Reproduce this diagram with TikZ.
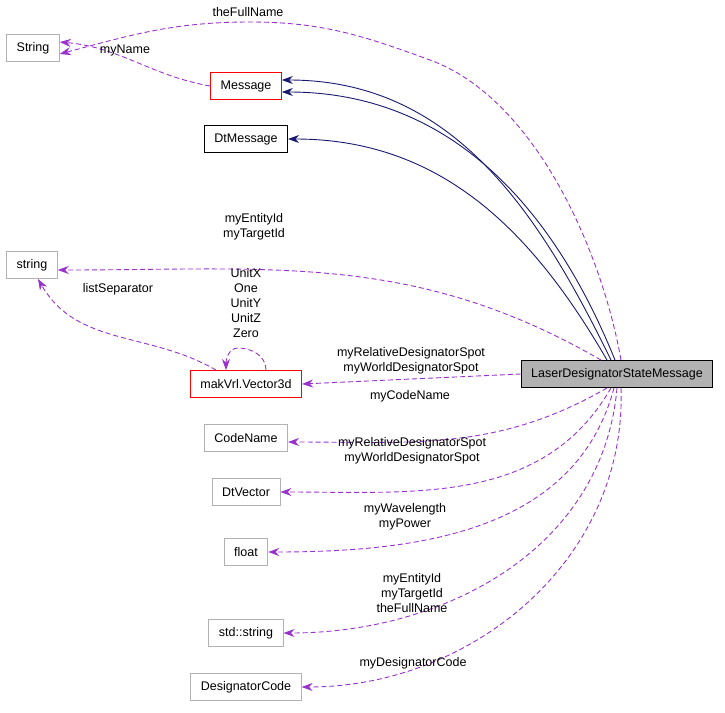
\documentclass[tikz,border=0pt]{standalone}
\usepackage{fontspec}
\setmainfont{Liberation Sans}
\usetikzlibrary{arrows.meta}
\tikzset{
  box/.style={draw=gray!60,fill=white,minimum height=27pt,inner xsep=10pt,font=\fontsize{12.5}{15}\selectfont,line width=0.9pt},
  redbox/.style={box,draw=red},
  blkbox/.style={box,draw=black},
  inh/.style={draw={rgb,255:red,25;green,25;blue,112},line width=0.9pt,-{Stealth[length=11pt,width=8pt]}},
  use/.style={draw={rgb,255:red,153;green,50;blue,204},line width=0.9pt,dash pattern=on 5pt off 3pt,-{Stealth[length=11pt,width=8pt]}},
  lbl/.style={font=\fontsize{12.5}{15}\selectfont,align=center,inner sep=1pt}
}
\begin{document}
\begin{tikzpicture}[x=1pt,y=-1pt]
\useasboundingbox (0,0) rectangle (725,712);
% classes
\node[box] (String) at (33,48) {String};
\node[redbox] (Message) at (246,86) {Message};
\node[blkbox] (DtMessage) at (246,139) {DtMessage};
\node[box] (string) at (32,265) {string};
\node[redbox] (Vector) at (246,384) {makVrl.Vector3d};
\node[blkbox,fill=gray!60] (Laser) at (617,374) {LaserDesignatorStateMessage};
\node[box] (CodeName) at (246,438) {CodeName};
\node[box] (DtVector) at (246,492) {DtVector};
\node[box] (float) at (246,552) {float};
\node[box] (stdstring) at (246,633) {std::string};
\node[box] (DesCode) at (246,687) {DesignatorCode};
% inheritance
\draw[inh] ([xshift=-2pt]Laser.north) to[out=112,in=0] ([yshift=-6pt]Message.east);
\draw[inh] ([xshift=-6pt]Laser.north) to[out=116,in=0] ([yshift=6pt]Message.east);
\draw[inh] ([xshift=-10pt]Laser.north) to[out=120,in=0] (DtMessage.east);
% usage
\draw[use] ([xshift=4pt]Laser.north) to[out=100,in=-20,looseness=0.8] (430,60) to[out=160,in=0] (250,22) to[out=180,in=15] ([yshift=-6pt]String.east);
\node[lbl] at (248,12) {theFullName};
\draw[use] (Message.west) to[out=170,in=-5] ([yshift=6pt]String.east);
\node[lbl] at (125,50) {myName};
\draw[use] ([xshift=-16pt]Laser.north) to[out=150,in=0] ([yshift=-5pt]string.east);
\node[lbl] at (254,227) {myEntityId\\myTargetId};
\draw[use] ([xshift=-30pt]Vector.north) to[out=150,in=-60] ([xshift=6pt]string.south);
\node[lbl] at (118,289) {listSeparator};
\draw[use] ([xshift=20pt]Vector.north) to[out=90,in=0] (238,348) to[out=180,in=90] ([xshift=-20pt]Vector.north);
\node[lbl] at (246,303) {UnitX\\One\\UnitY\\UnitZ\\Zero};
\draw[use] (Laser.west) to (Vector.east);
\node[lbl] at (411,361) {myRelativeDesignatorSpot\\myWorldDesignatorSpot};
\draw[use] ([xshift=-10pt]Laser.south) to[out=-150,in=0] ([yshift=-4pt]CodeName.east) ;
\node[lbl] at (410,396) {myCodeName};
\draw[use] ([xshift=-6pt]Laser.south) to[out=-120,in=0] (DtVector.east);
\node[lbl] at (412,451) {myRelativeDesignatorSpot\\myWorldDesignatorSpot};
\draw[use] ([xshift=-3pt]Laser.south) to[out=-105,in=0] (float.east);
\node[lbl] at (405,517) {myWavelength\\myPower};
\draw[use] (Laser.south) to[out=-95,in=0] (stdstring.east);
\node[lbl] at (412,593) {myEntityId\\myTargetId\\theFullName};
\draw[use] ([xshift=4pt]Laser.south) to[out=-88,in=0] (DesCode.east);
\node[lbl] at (413,663) {myDesignatorCode};
\end{tikzpicture}
\end{document}
